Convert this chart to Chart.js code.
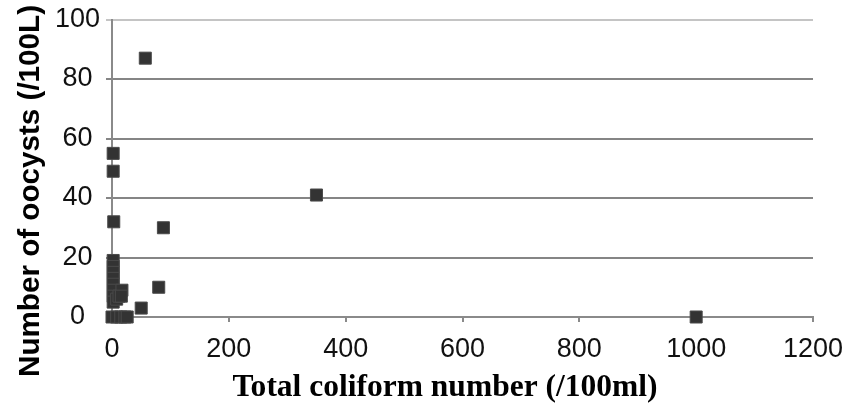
<!DOCTYPE html>
<html>
<head>
<meta charset="utf-8">
<script src="https://cdn.jsdelivr.net/npm/chart.js@4/dist/chart.umd.min.js"></script>
<style>
  html, body { margin: 0; padding: 0; background: #fff; }
  #wrap { width: 856px; height: 407px; }
</style>
</head>
<body>
<div id="wrap"><canvas id="chart" width="856" height="407"></canvas></div>
<script>
  // values
  var coliform = [2, 2, 3, 2, 2, 2, 2, 2, 2, 2, 2, 8, 12, 17, 16, 0, 8, 15, 22, 26, 50, 57, 80, 88, 350, 1000];
  var oocysts  = [55, 49, 32, 19, 17, 15, 13, 11, 9, 7, 5, 6, 7, 9, 7, 0, 0, 0, 0, 0, 3, 87, 10, 30, 41, 0];
  var xTicks = [0, 200, 400, 600, 800, 1000, 1200];
  var yTicks = [0, 20, 40, 60, 80, 100];
  var xTitle = "Total coliform number (/100ml)";
  var yTitle = "Number of oocysts (/100L)";

  var points = coliform.map(function (x, i) { return { x: x, y: oocysts[i] }; });

  // draw text squeezed/stretched to a given width
  function fitText(ctx, text, cx, cy, w, font, rot) {
    ctx.save();
    ctx.font = font;
    ctx.fillStyle = "#000";
    ctx.textAlign = "center";
    ctx.textBaseline = "middle";
    ctx.translate(cx, cy);
    ctx.rotate(rot);
    var m = ctx.measureText(text).width;
    ctx.scale(w / m, 1);
    ctx.fillText(text, 0, 0);
    ctx.restore();
  }

  var titles = {
    id: "titles",
    afterDraw: function (chart) {
      var ctx = chart.ctx;
      fitText(ctx, yTitle, 31, 191, 372, "bold 29px 'Liberation Sans'", -Math.PI / 2);
      fitText(ctx, xTitle, 445, 388, 425, "bold 31px 'Liberation Serif'", 0);
    }
  };

  new Chart(document.getElementById("chart"), {
    type: "scatter",
    data: {
      datasets: [{
        data: points,
        clip: false,
        pointStyle: "rect",
        pointRadius: 8.5,
        pointBorderWidth: 1,
        backgroundColor: "#333333",
        borderColor: "#4a4a4a"
      }]
    },
    options: {
      responsive: false,
      animation: false,
      layout: { padding: { top: 17, right: 43, left: 0, bottom: 0 } },
      plugins: { legend: { display: false }, tooltip: { enabled: false } },
      scales: {
        x: {
          min: 0,
          max: 1200,
          afterBuildTicks: function (s) { s.ticks = xTicks.map(function (v) { return { value: v }; }); },
          afterFit: function (s) { s.height = 90; },
          grid: { drawOnChartArea: false, drawTicks: true, tickLength: 5, color: "#8a8a8a", lineWidth: 2 },
          border: { color: "#8a8a8a", width: 2 },
          ticks: {
            padding: 11, color: "#111", maxRotation: 0,
            font: { family: "'Liberation Sans'", size: 27 },
            callback: function (v) { return String(v); }
          }
        },
        y: {
          min: 0,
          max: 100,
          afterBuildTicks: function (s) { s.ticks = yTicks.map(function (v) { return { value: v }; }); },
          afterFit: function (s) { s.width = 112; },
          grid: {
            tickLength: 6,
            lineWidth: 2,
            color: function (c) { return c.tick && c.tick.value === 100 ? "#c4c4c4" : "#858585"; }
          },
          border: { color: "#8a8a8a", width: 2 },
          ticks: {
            padding: 6, crossAlign: "center", color: "#111",
            font: { family: "'Liberation Sans'", size: 27, lineHeight: 1 },
            callback: function (v) { return String(v); }
          }
        }
      }
    },
    plugins: [titles]
  });
</script>
</body>
</html>
